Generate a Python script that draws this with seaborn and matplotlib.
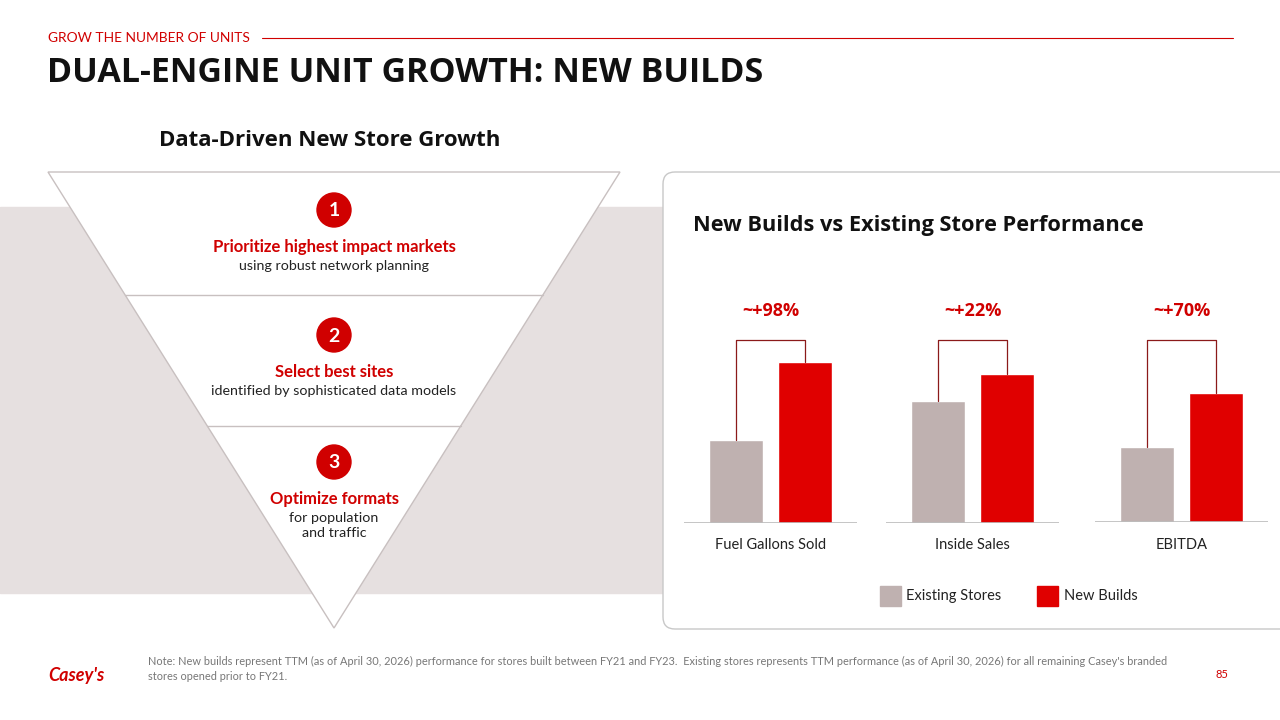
import matplotlib
matplotlib.use("Agg")
import matplotlib.pyplot as plt
import seaborn as sns
import pandas as pd
from matplotlib.patches import Polygon, Rectangle, FancyBboxPatch, Circle
from matplotlib.lines import Line2D

sns.set_theme(style="white")
plt.rcParams['font.family'] = ['Lato', 'DejaVu Sans']
HEAD = ['Open Sans', 'DejaVu Sans']

categories = ["Fuel Gallons Sold", "Inside Sales", "EBITDA"]
existing = [83, 122, 75]
new_builds = [161, 149, 129]
uplift = ["~+98%", "~+22%", "~+70%"]
series = ["Existing Stores", "New Builds"]
colors = {"Existing Stores": "#bfb1b0", "New Builds": "#e00000"}
RED = "#d00000"

W, H = 1280, 720
fig = plt.figure(figsize=(12.8, 7.2), dpi=100)
bg = fig.add_axes([0, 0, 1, 1]); bg.set_xlim(0, W); bg.set_ylim(H, 0); bg.axis("off")

def T(x, y, s, **kw):
    bg.text(x, y, s, **kw)

# header
T(48, 38, "GROW THE NUMBER OF UNITS", color=RED, fontsize=9.9, va="center")
bg.add_line(Line2D([262, 1233], [38, 38], color=RED, lw=0.8))
T(47, 73, "DUAL-ENGINE UNIT GROWTH: NEW BUILDS", fontsize=24.5, fontweight="bold", color="#111111", va="center", family=HEAD)
T(330, 141, "Data-Driven New Store Growth", fontsize=16, fontweight="bold", ha="center", va="center", color="#111", family=HEAD)

# grey band and triangle
bg.add_patch(Rectangle((0, 207), 665, 386, color="#e6e0e0", zorder=0))
bg.add_patch(Polygon([(48, 172), (620, 172), (334, 628)], closed=True, facecolor="white", edgecolor="#c8c0c0", lw=1, zorder=1))
for y in (295, 426):
    xl = 48 + (y - 172) * (334 - 48) / 456
    xr = 620 - (y - 172) * (620 - 334) / 456
    bg.add_line(Line2D([xl, xr], [y, y], color="#c8c0c0", lw=1, zorder=2))
steps = [(210, "1", "Prioritize highest impact markets", "using robust network planning"),
         (335, "2", "Select best sites", "identified by sophisticated data models"),
         (462, "3", "Optimize formats", "for population\nand traffic")]
for cy, n, head, sub in steps:
    bg.add_patch(Circle((334, cy), 17, color=RED, zorder=3))
    T(334, cy + 1, n, color="white", fontsize=14, fontweight="bold", ha="center", va="center", zorder=4)
    T(334, cy + 37, head, color=RED, fontsize=12, fontweight="bold", ha="center", va="center", zorder=4)
    T(334, cy + 50, sub, color="#222", fontsize=10.3, ha="center", va="top", zorder=4, linespacing=1.3)

# right panel
bg.add_patch(FancyBboxPatch((663, 172), 660, 457, boxstyle="round,pad=0,rounding_size=12",
                            facecolor="white", edgecolor="#c8c8c8", lw=1, zorder=1))
T(693, 226, "New Builds vs Existing Store Performance", fontsize=15.7, fontweight="bold", va="center", color="#111", family=HEAD)

# bar groups
lefts = [684, 886, 1095]
bases = [523, 523, 522]
width_px = 173
top_px = 280
for i, cat in enumerate(categories):
    base = bases[i]
    ax = fig.add_axes([lefts[i] / W, (H - base) / H, width_px / W, (base - top_px) / H])
    df = pd.DataFrame({"series": series, "value": [existing[i], new_builds[i]]})
    sns.barplot(data=df, x="series", y="value", hue="series", palette=colors, ax=ax,
                width=0.79, legend=False, saturation=1)
    ax.set_xlim(-0.765, 1.765)
    ax.set_ylim(0, base - top_px)
    ax.axis("off")
    ax.axhline(0, color="#bbbbbb", lw=1.2)
    lvl = base - 340
    ax.plot([0, 0, 1, 1], [existing[i], lvl, lvl, new_builds[i]], color="#8b1a1a", lw=0.9)
    ax.text(0.5, base - 311, uplift[i], color=RED, fontsize=13, fontweight="bold", ha="center", va="center", family=HEAD)
    T(lefts[i] + width_px / 2, 545, cat, fontsize=10.5, ha="center", va="center", color="#222")

# legend
bg.add_patch(Rectangle((880, 586), 21, 20, color=colors["Existing Stores"]))
T(906, 596, "Existing Stores", fontsize=10.5, va="center", color="#222")
bg.add_patch(Rectangle((1037, 586), 21, 20, color=colors["New Builds"]))
T(1064, 596, "New Builds", fontsize=10.5, va="center", color="#222")

# footer
T(48, 676, "Casey's", color=RED, fontsize=13, fontweight="bold", style="italic", va="center")
T(148, 669, "Note: New builds represent TTM (as of April 30, 2026) performance for stores built between FY21 and FY23.  Existing stores represents TTM performance (as of April 30, 2026) for all remaining Casey's branded\nstores opened prior to FY21.",
  fontsize=7.9, color="#777", va="center", linespacing=1.5)
T(1228, 675, "85", color=RED, fontsize=8, ha="right", va="center")

fig.savefig("out.png", dpi=100)
